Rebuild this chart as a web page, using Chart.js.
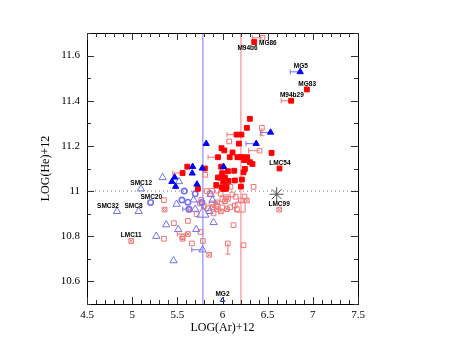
<!DOCTYPE html>
<html>
<head>
<meta charset="utf-8">
<script src="https://cdn.jsdelivr.net/npm/chart.js@4.4.1/dist/chart.umd.min.js"></script>
<style>
html,body{margin:0;padding:0;background:#fff;}
canvas{display:block;}
</style>
</head>
<body>
<canvas id="c" width="471" height="364"></canvas>
<script>
// ---- data (x = LOG(Ar)+12, y = LOG(He)+12) ----
const xTickValues = [4.5, 5, 5.5, 6, 6.5, 7, 7.5];
const yTickLabels = ["10.6", "10.8", "11", "11.2", "11.4", "11.6"];

const redFilled = [
  [6.351,11.660],[6.934,11.450],[6.760,11.400],[6.303,11.320],[6.270,11.280],
  [6.155,11.250],[6.210,11.250],[6.181,11.210],[5.989,11.190],[6.020,11.180],
  [6.111,11.171],[5.950,11.150],[6.080,11.150],[6.165,11.150],[6.196,11.150],
  [6.226,11.150],[6.273,11.150],[6.240,11.137],[6.303,11.128],[6.332,11.120],
  [6.543,11.169],[6.631,11.100],[5.610,11.108],[5.558,11.080],[5.805,11.100],
  [5.985,11.108],[6.060,11.088],[6.130,11.090],[6.248,11.098],[6.233,11.083],
  [5.997,11.079],[5.950,11.060],[5.975,11.060],[6.027,11.060],[6.008,11.042],
  [6.067,11.045],[6.137,11.047],[6.215,11.051],[5.931,11.027],[5.993,11.017],
  [6.045,11.020],[6.204,11.020],[5.728,11.010],[6.008,11.010],[6.038,11.010]
];
const redOpen = [
  [6.443,11.679],[6.436,11.280],[6.410,11.179],[6.074,11.220],[6.344,11.019],
  [6.089,11.019],[5.809,11.072],[5.824,11.000],[5.765,10.961],[5.883,11.001],
  [5.939,11.002],[5.861,10.988],[5.979,10.989],[6.038,10.973],[6.110,10.985],
  [6.145,10.975],[6.244,10.976],[6.204,10.958],[5.794,10.933],[5.838,10.924],
  [5.901,10.901],[5.713,10.898],[5.750,10.945],[5.880,10.945],[5.935,10.935],
  [6.000,10.928],[6.085,10.928],[6.135,10.936],[6.159,10.920],[6.000,10.965],
  [5.352,10.960],[5.462,10.858],[5.617,10.868],[5.352,10.789],[5.556,10.796],
  [5.661,10.768],[5.783,10.779],[5.757,10.819],[6.122,10.849],[6.059,10.768],
  [6.233,10.760]
];
const redOpenBig = [[6.196,10.929]];
const redCross = [
  [4.990,10.779],[6.628,10.918],[5.359,10.918],[5.617,10.810],[5.558,10.789],
  [5.853,10.718],[5.632,10.918],[5.894,10.929],[5.938,10.920],[5.982,10.910],
  [6.060,10.966],[6.027,10.955],[5.940,10.950],[6.270,10.958],[6.049,10.920]
];
const blueFilled = [
  [6.860,11.528],[6.532,11.260],[6.373,11.210],[5.820,11.210],[5.669,11.108],
  [5.665,11.079],[5.776,11.101],[6.012,11.108],[5.470,11.061],[5.440,11.042],
  [5.481,11.020],[5.717,11.030]
];
const blueOpen = [
  [5.097,11.010],[4.832,10.910],[5.072,10.910],[5.337,11.060],[5.518,11.042],
  [5.492,10.942],[5.680,10.961],[5.377,10.851],[5.510,10.830],[5.267,10.800],
  [5.709,10.830],[5.901,10.861],[5.458,10.692],[5.779,10.740],[5.857,10.910],
  [5.697,10.920],[5.870,10.985],[5.890,10.960]
];
const blueOpenBig = [[5.783,10.900]];
const blueCircle = [
  [5.204,10.950],[5.577,11.000],[5.551,10.960],[5.617,10.951],[5.698,10.988],
  [5.628,10.920],[5.772,10.950]
];
const mg2Point = [[6.000,10.517]];
const asteriskPoint = [[6.600,10.986]];

const blueLineX = 5.783;
const redLineX = 6.204;
const heRefY = 11.0;

// error bars: [x, y, xEnd, yEnd]
const redErrBars = [
  [6.760,11.400,6.650,11.400],[6.155,11.250,6.050,11.250],[5.950,11.150,5.840,11.150],
  [5.558,11.080,5.450,11.080],[6.443,11.679,6.330,11.679],[6.410,11.179,6.290,11.179],
  [5.617,10.810,5.500,10.810],[6.436,11.280,6.436,11.245],[6.059,10.768,6.059,10.721]
];
const blueErrBars = [
  [6.860,11.528,6.750,11.528],[6.532,11.260,6.420,11.260],[6.373,11.210,6.260,11.210],
  [5.779,10.740,5.660,10.740],[5.628,10.920,5.560,10.920]
];

// text labels: [text, x, y]
const pointLabels = [
  ["MG86",6.502,11.655],["M94b6",6.277,11.634],["MG5",6.867,11.553],
  ["MG83",6.937,11.474],["M94b29",6.768,11.424],["LMC54",6.635,11.123],
  ["LMC99",6.627,10.944],["SMC12",5.100,11.033],["SMC20",5.211,10.973],
  ["SMC32",4.732,10.934],["SMC8",5.015,10.934],["LMC11",4.990,10.806],
  ["MG2",6.000,10.542]
];

// ---- styles ----
const RED = '#ff0000', BLUE = '#0000ff';
const PINK = 'rgb(240,115,115)', LBLUE = 'rgb(115,115,240)';
const toXY = a => a.map(p => ({x:p[0], y:p[1]}));

function pts(label, arr, style, color, radius, fill, bw) {
  return {
    type:'scatter', label, data: toXY(arr), pointStyle: style,
    pointRadius: radius, pointHoverRadius: radius,
    pointBackgroundColor: fill ? color : 'rgba(0,0,0,0)',
    pointBorderColor: color, pointBorderWidth: bw || 1, showLine:false
  };
}

const datasets = [
  pts('asterisk', asteriskPoint, 'star', '#555', 7, false, 1),
  pts('blueFilled', blueFilled, 'triangle', BLUE, 3.6, true, 1),
  pts('redFilled', redFilled, 'rect', RED, 3.4, true, 1),
  pts('mg2', mg2Point, 'triangle', BLUE, 2.5, false, 1),
  pts('blueCircle', blueCircle, 'circle', LBLUE, 2.7, false, 1.6),
  pts('blueOpen', blueOpen, 'triangle', LBLUE, 4.2, false, 1),
  pts('blueOpenBig', blueOpenBig, 'triangle', LBLUE, 7, false, 1),
  pts('redCrossX', redCross, 'crossRot', PINK, 2.6, false, 1),
  pts('redCross', redCross, 'rect', PINK, 3.3, false, 1),
  pts('redOpen', redOpen, 'rect', PINK, 3.3, false, 1),
  pts('redOpenBig', redOpenBig, 'rect', PINK, 7, false, 1),
  {type:'line', label:'blueLine', data:[{x:blueLineX,y:10.5},{x:blueLineX,y:11.7}],
   borderColor:'rgb(120,120,255)', borderWidth:1, pointRadius:0},
  {type:'line', label:'redLine', data:[{x:redLineX,y:10.5},{x:redLineX,y:11.7}],
   borderColor:'rgb(255,120,120)', borderWidth:1, pointRadius:0},
  {type:'line', label:'heRef', data:[{x:4.5,y:heRefY},{x:7.5,y:heRefY}],
   borderColor:'#777', borderWidth:1, borderDash:[1,3], pointRadius:0}
];

const framePlugin = {
  id:'frame',
  beforeDatasetsDraw(chart) {
    const {ctx, scales:{x, y}} = chart;
    ctx.save();
    function bars(list, color) {
      ctx.strokeStyle = color; ctx.lineWidth = 1;
      list.forEach(b => {
        const x0 = x.getPixelForValue(b[0]), y0 = y.getPixelForValue(b[1]);
        const x1 = x.getPixelForValue(b[2]), y1 = y.getPixelForValue(b[3]);
        ctx.beginPath(); ctx.moveTo(x0, y0); ctx.lineTo(x1, y1);
        if (Math.abs(x1 - x0) > Math.abs(y1 - y0)) { ctx.moveTo(x1, y1 - 2.5); ctx.lineTo(x1, y1 + 2.5); }
        else { ctx.moveTo(x1 - 2.5, y1); ctx.lineTo(x1 + 2.5, y1); }
        ctx.stroke();
      });
    }
    bars(redErrBars, PINK);
    bars(blueErrBars, LBLUE);
    ctx.restore();
  },
  afterDraw(chart) {
    const {ctx, chartArea:a, scales:{x, y}} = chart;
    ctx.save();
    ctx.strokeStyle = '#000'; ctx.lineWidth = 1;
    ctx.strokeRect(Math.round(a.left)+0.5, Math.round(a.top)+0.5, Math.round(a.right-a.left), Math.round(a.bottom-a.top));
    ctx.strokeStyle = '#333';
    ctx.beginPath();
    for (let i = 0; i <= 30; i++) {
      const v = 4.5 + i * 0.1;
      const px = Math.round(x.getPixelForValue(v)) + 0.5;
      const len = (i % 5 === 0) ? 7 : 4;
      ctx.moveTo(px, a.bottom); ctx.lineTo(px, a.bottom - len);
      ctx.moveTo(px, a.top); ctx.lineTo(px, a.top + len);
    }
    for (let i = 0; i <= 12; i++) {
      const v = 10.5 + i * 0.1;
      const py = Math.round(y.getPixelForValue(v)) + 0.5;
      const len = (i % 2 === 1) ? 7 : 4;
      ctx.moveTo(a.left, py); ctx.lineTo(a.left + len, py);
      ctx.moveTo(a.right, py); ctx.lineTo(a.right - len, py);
    }
    ctx.stroke();
    ctx.fillStyle = '#000';
    ctx.font = 'bold 6.5px "Liberation Sans", Arial, sans-serif';
    ctx.textAlign = 'center'; ctx.textBaseline = 'middle';
    pointLabels.forEach(l => {
      ctx.fillText(l[0], x.getPixelForValue(l[1]), y.getPixelForValue(l[2]));
    });
    ctx.restore();
  }
};

new Chart(document.getElementById('c'), {
  type:'scatter',
  data:{datasets},
  options:{
    responsive:false, animation:false,
    layout:{padding:{left:0, top:33, right:113, bottom:0}},
    plugins:{legend:{display:false}, tooltip:{enabled:false}},
    scales:{
      x:{
        type:'linear', min:4.5, max:7.5,
        afterBuildTicks: s => { s.ticks = xTickValues.map(v => ({value:v})); },
        afterFit: s => { s.height = 60; },
        grid:{display:false, drawTicks:false},
        border:{display:false},
        ticks:{padding:5, color:'#000', font:{family:'"Liberation Serif", serif', size:11},
               callback: v => String(v)},
        title:{display:true, text:'LOG(Ar)+12', color:'#000',
               font:{family:'"Liberation Serif", serif', size:12}, padding:{top:0, bottom:29}}
      },
      y:{
        type:'linear', min:10.5, max:11.7,
        afterBuildTicks: s => { s.ticks = yTickLabels.map(t => ({value:parseFloat(t)})); },
        afterFit: s => { s.width = 87; },
        grid:{display:false, drawTicks:false},
        border:{display:false},
        ticks:{padding:7, color:'#000', font:{family:'"Liberation Serif", serif', size:11},
               callback: (v, i) => yTickLabels[i]},
        title:{display:true, text:'LOG(He)+12', color:'#000',
               font:{family:'"Liberation Serif", serif', size:12}, padding:{top:39, bottom:0}}
      }
    }
  },
  plugins:[framePlugin]
});
</script>
</body>
</html>
